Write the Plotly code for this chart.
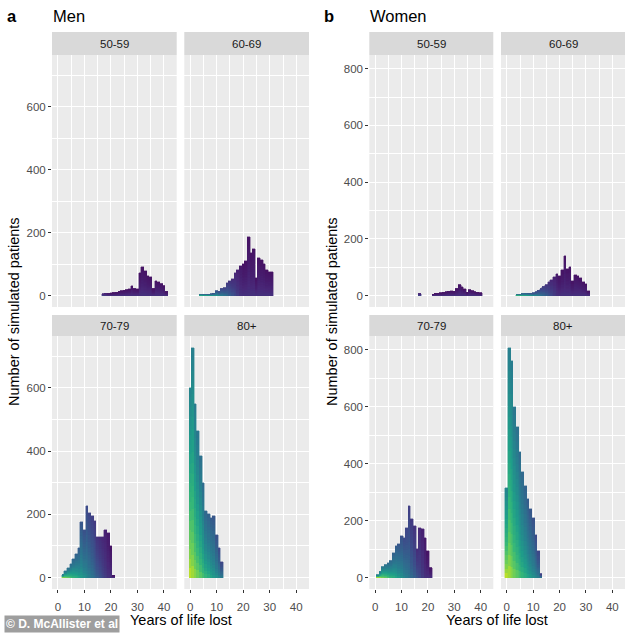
import plotly.graph_objects as go
from plotly.colors import sample_colorscale

# ---------------- data (years of life lost, 1-year bins) ----------------
men_50_59_years = list(range(17, 42))
men_50_59_counts = [4, 5, 5, 7, 8, 9, 12, 14, 16, 18, 20, 30, 22, 20, 72, 92, 78, 62, 58, 22, 46, 42, 38, 32, 12]

men_60_69_years = list(range(4, 32))
men_60_69_counts = [2, 2, 3, 3, 4, 6, 14, 12, 22, 25, 40, 45, 52, 72, 80, 95, 100, 110, 185, 135,
                    148, 55, 118, 112, 100, 80, 76, 74]

men_70_79_years = list(range(2, 22))
men_70_79_counts = [8, 20, 30, 42, 58, 75, 95, 175, 150, 225, 205, 195, 180, 128, 128, 128, 150, 140, 100, 5]

men_80_years = list(range(0, 13))
men_80_counts = [600, 725, 550, 465, 385, 300, 210, 200, 190, 195, 135, 95, 50]

women_50_59_years = [17] + list(range(22, 41))
women_50_59_counts = [5, 4, 6, 7, 8, 10, 12, 14, 15, 14, 25, 38, 30, 22, 10, 20, 16, 12, 10, 8]

women_60_69_years = list(range(4, 32))
women_60_69_counts = [3, 4, 5, 6, 7, 7, 8, 12, 18, 25, 32, 38, 48, 55, 65, 75, 70, 90, 138, 95,
                      100, 50, 72, 70, 62, 48, 40, 15]

women_70_79_years = list(range(1, 22))
women_70_79_counts = [8, 20, 38, 45, 50, 60, 85, 110, 118, 145, 140, 175, 250, 205, 180, 100, 175, 172,
                      140, 95, 35]

women_80_years = list(range(0, 14))
women_80_counts = [315, 805, 760, 600, 530, 440, 370, 320, 275, 240, 210, 150, 95, 12]

age_groups = ["50-59", "60-69", "70-79", "80+"]
x_ticks = [0, 10, 20, 30, 40]
men_y_ticks = [0, 200, 400, 600]
women_y_ticks = [0, 200, 400, 600, 800]

# ---------------- layout helpers ----------------
W = H = 634
def fx(p):
    return p / W
def fy(p):
    return 1 - p / H

col_px = [(52, 176.7), (184.3, 309), (369.3, 493.3), (501, 625)]
row_px = [(55, 307), (336, 589)]
strip_px = [(32, 55), (315, 336)]

FONT = "Arial, Liberation Sans, sans-serif"
N_SEG = 20

def seg_color(x, frac):
    vb = max(0.95 - 0.042 * x, 0.15)
    vt = max(0.45 - 0.02 * x, 0.05)
    v = vb + (vt - vb) * (frac ** 0.6)
    return sample_colorscale("Viridis", [min(max(v, 0), 1)])[0]

facets = [
    (men_50_59_years, men_50_59_counts, 0, 0, "men"),
    (men_60_69_years, men_60_69_counts, 1, 0, "men"),
    (men_70_79_years, men_70_79_counts, 0, 1, "men"),
    (men_80_years, men_80_counts, 1, 1, "men"),
    (women_50_59_years, women_50_59_counts, 2, 0, "women"),
    (women_60_69_years, women_60_69_counts, 3, 0, "women"),
    (women_70_79_years, women_70_79_counts, 2, 1, "women"),
    (women_80_years, women_80_counts, 3, 1, "women"),
]

fig = go.Figure()
layout_axes = {}
shapes = []
annotations = []

for i, (yrs, cnts, col, row, grp) in enumerate(facets):
    n = i + 1
    xa = "x" if n == 1 else f"x{n}"
    ya = "y" if n == 1 else f"y{n}"
    for s in range(N_SEG):
        frac = (s + 0.5) / N_SEG
        cols = [seg_color(x, frac) for x in yrs]
        fig.add_trace(go.Bar(
            x=yrs, y=[c / N_SEG for c in cnts], width=1,
            marker=dict(color=cols, line=dict(width=0.4, color=cols)),
            xaxis=xa, yaxis=ya, showlegend=False, hoverinfo="skip"))
    bottom = row == 1
    left = col in (0, 2)
    xd = [fx(col_px[col][0]), fx(col_px[col][1])]
    yd = [fy(row_px[row][1]), fy(row_px[row][0])]
    xkey = "xaxis" if n == 1 else f"xaxis{n}"
    ykey = "yaxis" if n == 1 else f"yaxis{n}"
    layout_axes[xkey] = dict(
        domain=xd, anchor=ya, range=[-2.2, 44.8], tickmode="array", tickvals=x_ticks,
        showgrid=True, gridcolor="white", gridwidth=1.1, zeroline=False, showline=False,
        minor=dict(tickmode="array", tickvals=[5, 15, 25, 35], showgrid=True,
                   gridcolor="white", gridwidth=0.5, ticks=""),
        ticks="outside" if bottom else "", ticklen=3, tickwidth=1, tickcolor="#333333",
        ticklabelstandoff=4,
        showticklabels=bottom, tickfont=dict(family=FONT, size=11.5, color="#4D4D4D"),
        fixedrange=True)
    if grp == "men":
        yr = [-36, 764]
        yt = men_y_ticks
    else:
        yr = [-40, 848]
        yt = women_y_ticks
    layout_axes[ykey] = dict(
        domain=yd, anchor=xa, range=yr, tickmode="array", tickvals=yt,
        showgrid=True, gridcolor="white", gridwidth=1.1, zeroline=False, showline=False,
        minor=dict(tickmode="array", tickvals=[100, 300, 500, 700], showgrid=True,
                   gridcolor="white", gridwidth=0.5, ticks=""),
        ticks="outside" if left else "", ticklen=3, tickwidth=1, tickcolor="#333333",
        showticklabels=left, tickfont=dict(family=FONT, size=11.5, color="#4D4D4D"),
        fixedrange=True)
    # facet strip
    sy0, sy1 = strip_px[row]
    shapes.append(dict(type="rect", xref="paper", yref="paper",
                       x0=xd[0], x1=xd[1], y0=fy(sy1), y1=fy(sy0),
                       fillcolor="#D9D9D9", line=dict(width=0), layer="below"))
    annotations.append(dict(text=age_groups[(col % 2) + 2 * row], xref="paper", yref="paper",
                            x=(xd[0] + xd[1]) / 2, y=fy((sy0 + sy1) / 2),
                            xanchor="center", yanchor="middle", showarrow=False,
                            font=dict(family=FONT, size=11.5, color="#1A1A1A")))

# titles
for lab, name, xl, xn in [("a", "Men", 5, 51), ("b", "Women", 322, 368)]:
    annotations.append(dict(text=f"<b>{lab}</b>", xref="paper", yref="paper", x=fx(xl), y=fy(16),
                            xanchor="left", yanchor="middle", showarrow=False,
                            font=dict(family=FONT, size=16.5, color="black")))
    annotations.append(dict(text=name, xref="paper", yref="paper", x=fx(xn), y=fy(16),
                            xanchor="left", yanchor="middle", showarrow=False,
                            font=dict(family=FONT, size=16.5, color="black")))

# axis titles
for xc in (14, 332):
    annotations.append(dict(text="Number of simulated patients", xref="paper", yref="paper",
                            x=fx(xc), y=fy(312), xanchor="center", yanchor="middle",
                            textangle=-90, showarrow=False,
                            font=dict(family=FONT, size=14.5, color="black")))
for xc in (181, 497):
    annotations.append(dict(text="Years of life lost", xref="paper", yref="paper",
                            x=fx(xc), y=fy(620), xanchor="center", yanchor="middle",
                            showarrow=False, font=dict(family=FONT, size=14.5, color="black")))

# credit
annotations.append(dict(text="<b>© D. McAllister et al</b>", xref="paper", yref="paper",
                        x=fx(4), y=fy(633), xanchor="left", yanchor="bottom", showarrow=False,
                        bgcolor="#9E9E9E", borderpad=1,
                        font=dict(family=FONT, size=12, color="white")))

fig.update_layout(
    width=W, height=H, autosize=False,
    margin=dict(l=0, r=0, t=0, b=0),
    paper_bgcolor="white", plot_bgcolor="#EBEBEB",
    barmode="stack", bargap=0,
    shapes=shapes, annotations=annotations,
    **layout_axes)

fig.write_html("out.html", config={"displayModeBar": False},
               post_script="document.body.style.margin='0';document.body.style.padding='0';")
